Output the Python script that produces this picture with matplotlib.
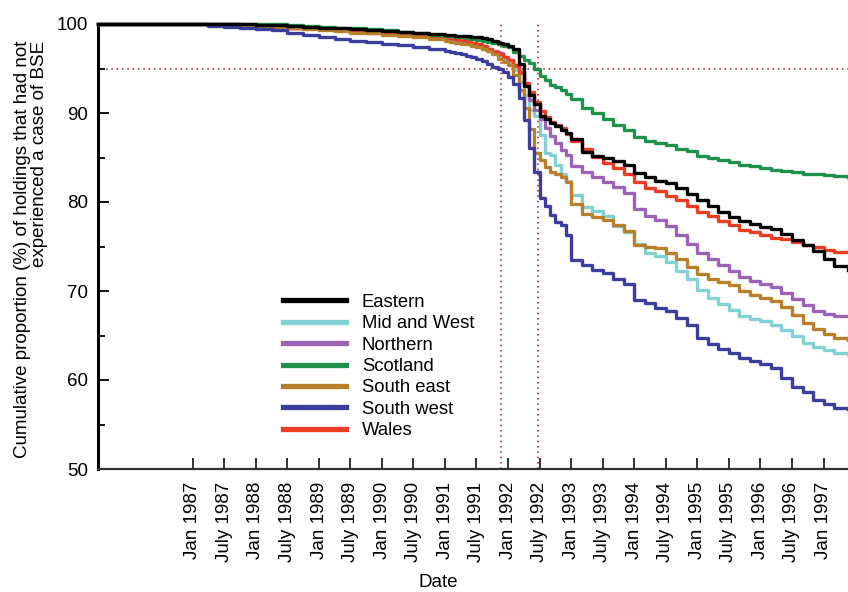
import matplotlib
matplotlib.use('Agg')
import matplotlib.pyplot as plt
import pandas as pd

plt.rcParams['font.family'] = ['Liberation Sans', 'DejaVu Sans']

# ---------------- data ----------------
dates = [
    "1985-07-01", "1985-10-01", "1986-01-01", "1986-04-01", "1986-07-01", "1986-10-01",
    "1987-01-01", "1987-04-01", "1987-07-01", "1987-10-01", "1988-01-01", "1988-04-01",
    "1988-07-01", "1988-10-01", "1989-01-01", "1989-04-01", "1989-07-01", "1989-10-01",
    "1990-01-01", "1990-04-01", "1990-07-01", "1990-10-01",
    "1991-01-01", "1991-02-01", "1991-03-01", "1991-04-01", "1991-05-01", "1991-06-01",
    "1991-07-01", "1991-08-01", "1991-09-01", "1991-10-01", "1991-11-01", "1991-12-01",
    "1992-01-01", "1992-02-01", "1992-03-01", "1992-04-01", "1992-05-01", "1992-06-01",
    "1992-07-01", "1992-08-01", "1992-09-01", "1992-10-01", "1992-11-01", "1992-12-01",
    "1993-01-01", "1993-03-01", "1993-05-01", "1993-07-01", "1993-09-01", "1993-11-01",
    "1994-01-01", "1994-03-01", "1994-05-01", "1994-07-01", "1994-09-01", "1994-11-01",
    "1995-01-01", "1995-03-01", "1995-05-01", "1995-07-01", "1995-09-01", "1995-11-01",
    "1996-01-01", "1996-03-01", "1996-05-01", "1996-07-01", "1996-09-01", "1996-11-01",
    "1997-01-01", "1997-03-01", "1997-05-22",
]

eastern = [
    100, 100, 100, 100, 100, 100, 100, 100, 100, 99.95, 99.9, 99.85, 99.8, 99.7, 99.6, 99.5,
    99.4, 99.3, 99.2, 99.1, 99.0, 98.9,
    98.8, 98.8, 98.7, 98.7, 98.6, 98.5, 98.5, 98.4, 98.3, 98.1, 97.9, 97.8,
    97.5, 97.2, 95.5, 93.0, 92.0, 91.0, 89.7, 89.3, 88.9, 88.5, 88.1, 87.7,
    87.1, 85.6, 85.2, 84.9, 84.6, 84.2, 83.3, 82.8, 82.4, 82.1, 81.6, 80.9,
    80.2, 79.5, 78.9, 78.3, 77.9, 77.5, 77.2, 77.0, 76.4, 75.7, 75.2, 74.5,
    73.6, 72.8, 72.4,
]
mid_and_west = [
    100, 100, 100, 100, 100, 100, 100, 100, 100, 99.85, 99.8, 99.7, 99.6, 99.5, 99.4, 99.3,
    99.15, 99.05, 98.9, 98.8, 98.6, 98.4,
    98.2, 98.1, 98.0, 97.9, 97.8, 97.6, 97.4, 97.2, 97.0, 96.7, 96.4, 96.0,
    95.6, 94.8, 93.5, 92.0, 90.3, 89.7, 87.5, 85.5, 85.3, 84.2, 83.2, 82.4,
    80.8, 79.4, 79.0, 78.4, 77.3, 76.6, 75.3, 74.3, 73.9, 73.3, 72.3, 71.3,
    70.1, 69.2, 68.5, 67.9, 67.2, 66.8, 66.6, 66.2, 65.6, 65.0, 64.2, 63.7,
    63.4, 63.0, 62.9,
]
northern = [
    100, 100, 100, 100, 100, 100, 100, 100, 100, 99.9, 99.8, 99.7, 99.6, 99.5, 99.4, 99.3,
    99.1, 99.0, 98.9, 98.8, 98.6, 98.5,
    98.3, 98.2, 98.1, 98.0, 97.9, 97.8, 97.6, 97.4, 97.2, 97.0, 96.7, 96.3,
    95.9, 95.3, 94.5, 93.2, 91.5, 90.3, 89.3, 88.3, 87.4, 86.6, 85.8, 85.3,
    84.0, 83.4, 82.8, 82.3, 81.7, 81.0, 79.2, 78.4, 78.0, 77.3, 76.3, 75.3,
    74.3, 73.6, 72.9, 72.3, 71.6, 71.1, 70.8, 70.5, 69.8, 69.1, 68.4, 67.8,
    67.4, 67.2, 67.2,
]
scotland = [
    100, 100, 100, 100, 100, 100, 100, 100, 100, 100, 100, 99.95, 99.9, 99.8, 99.7, 99.6,
    99.5, 99.4, 99.3, 99.1, 99.0, 98.8,
    98.6, 98.6, 98.5, 98.5, 98.4, 98.3, 98.2, 98.1, 98.0, 97.9, 97.7, 97.5,
    97.4, 96.9, 96.4, 96.0, 95.6, 94.9, 94.2, 93.7, 93.2, 92.9, 92.6, 92.1,
    91.6, 90.6, 90.0, 89.3, 88.7, 88.1, 87.3, 86.8, 86.6, 86.4, 86.0, 85.7,
    85.2, 84.9, 84.7, 84.5, 84.2, 84.0, 83.8, 83.6, 83.5, 83.4, 83.2, 83.1,
    83.0, 82.9, 82.8,
]
south_east = [
    100, 100, 100, 100, 100, 100, 100, 100, 100, 99.85, 99.75, 99.6, 99.5, 99.4, 99.3, 99.2,
    99.0, 98.95, 98.8, 98.6, 98.5, 98.3,
    98.1, 98.0, 97.9, 97.8, 97.7, 97.5, 97.4, 97.2, 97.0, 96.6, 96.1, 95.7,
    95.4, 94.3, 92.6, 90.6, 88.2, 85.5, 84.7, 83.9, 83.4, 83.1, 82.8, 82.2,
    79.8, 78.7, 78.3, 78.0, 77.4, 76.7, 75.2, 75.0, 74.8, 74.3, 73.6, 72.7,
    71.9, 71.3, 71.0, 70.7, 70.0, 69.5, 69.2, 68.9, 68.2, 67.3, 66.4, 65.7,
    65.2, 64.7, 64.5,
]
south_west = [
    100, 100, 100, 100, 100, 100, 100, 99.8, 99.7, 99.6, 99.4, 99.3, 99.0, 98.8, 98.5, 98.3,
    98.1, 98.0, 97.8, 97.6, 97.4, 97.2,
    97.0, 96.9, 96.7, 96.6, 96.4, 96.3, 96.1, 95.8, 95.5, 95.2, 94.9, 94.6,
    94.0, 93.3, 91.7, 89.2, 86.1, 83.4, 80.5, 79.5, 78.5, 77.8, 77.4, 76.3,
    73.5, 72.9, 72.4, 72.0, 71.4, 70.8, 69.0, 68.6, 68.1, 67.7, 67.0, 66.2,
    64.7, 64.0, 63.5, 63.0, 62.5, 62.1, 61.8, 61.3, 60.2, 59.2, 58.6, 57.8,
    57.3, 56.9, 56.7,
]
wales = [
    100, 100, 100, 100, 100, 100, 100, 100, 100, 99.9, 99.8, 99.7, 99.6, 99.5, 99.4, 99.3,
    99.2, 99.1, 99.0, 98.9, 98.8, 98.7,
    98.5, 98.4, 98.3, 98.2, 98.1, 97.9, 97.7, 97.5, 97.2, 96.9, 96.6, 96.3,
    96.0, 95.4, 94.6, 93.4, 92.4, 91.2, 90.2, 89.6, 89.0, 88.6, 88.3, 87.6,
    86.9, 86.0, 85.1, 84.4, 83.8, 83.2, 82.3, 81.6, 81.2, 80.7, 80.2, 79.6,
    78.9, 78.4, 77.9, 77.4, 76.9, 76.6, 76.3, 76.0, 75.8, 75.5, 75.2, 74.9,
    74.6, 74.4, 74.4,
]

region_names = ["Eastern", "Mid and West", "Northern", "Scotland",
                "South east", "South west", "Wales"]
region_values = [eastern, mid_and_west, northern, scotland,
                 south_east, south_west, wales]
region_colors = ["#000000", "#82d2d5", "#9b62b8", "#1f914a",
                 "#b8802a", "#3c3e9e", "#ee3b24"]

ref_level = 95
ref_dates = ["1991-11-20", "1992-06-22"]

tick_dates = ["1987-01-01", "1987-07-01", "1988-01-01", "1988-07-01", "1989-01-01",
              "1989-07-01", "1990-01-01", "1990-07-01", "1991-01-01", "1991-07-01",
              "1992-01-01", "1992-07-01", "1993-01-01", "1993-07-01", "1994-01-01",
              "1994-07-01", "1995-01-01", "1995-07-01", "1996-01-01", "1996-07-01",
              "1997-01-01"]
tick_labels = ["Jan 1987", "July 1987", "Jan 1988", "July 1988", "Jan 1989",
               "July 1989", "Jan 1990", "July 1990", "Jan 1991", "July 1991",
               "Jan 1992", "July 1992", "Jan 1993", "July 1993", "Jan 1994",
               "July 1994", "Jan 1995", "July 1995", "Jan 1996", "July 1996",
               "Jan 1997"]

# ---------------- plot ----------------
fig = plt.figure(figsize=(8.48, 5.92), dpi=100)
ax = fig.add_axes([98 / 848, 1 - 469 / 592, 750 / 848, 445 / 592])

x = pd.to_datetime(dates)
x_start = pd.Timestamp("1985-07-01")
x_end = pd.Timestamp("1997-05-22")

ref_color = "#a8403a"
ax.axhline(ref_level, xmin=0.01, xmax=1.0, color=ref_color, lw=1.2,
           ls=(0, (1, 2.2)), zorder=1)
ax.vlines(pd.to_datetime(ref_dates), 50, 100, color=ref_color, lw=1.2,
          ls=(0, (1, 2.2)), zorder=1)

draw_order = [1, 2, 6, 3, 4, 5, 0]
handles = {}
for i in draw_order:
    ln, = ax.step(x, region_values[i], where='post', color=region_colors[i],
                  lw=2.4, label=region_names[i], clip_on=False, zorder=3)
    handles[i] = ln

ax.set_xlim(x_start, x_end)
ax.set_ylim(50, 100)
ax.set_yticks([50, 60, 70, 80, 90, 100])
ax.set_yticks([55, 65, 75, 85, 95], minor=True)
ax.set_xticks(pd.to_datetime(tick_dates))
ax.set_xticklabels(tick_labels, rotation=90, va='top', ha='center')

ax.tick_params(axis='x', direction='in', length=8, width=1.3, pad=9,
               labelsize=13.5, color='#222222')
ax.tick_params(axis='y', which='major', direction='in', length=8, width=1.3,
               pad=7, labelsize=13.5)
ax.tick_params(axis='y', which='minor', direction='in', length=5, width=1.3)

for s in ['top', 'right']:
    ax.spines[s].set_visible(False)
ax.spines['left'].set_linewidth(2.2)
ax.spines['left'].set_color('#000000')
ax.spines['bottom'].set_linewidth(1.6)
ax.spines['bottom'].set_color('#333333')

ax.set_xlabel("Date", fontsize=13.5)
ax.xaxis.set_label_coords(0.453, -0.236)
ax.set_ylabel("Cumulative proportion (%) of holdings that had not\n"
              "experienced a case of BSE", fontsize=13.5, linespacing=1.0,
              multialignment='right')
ax.yaxis.set_label_coords(-0.066, 0.494)

leg = ax.legend([handles[i] for i in range(7)], region_names,
                loc='upper left', bbox_to_anchor=(0.247, 0.394),
                frameon=False, fontsize=13.3, handlelength=3.4,
                handletextpad=0.85, labelspacing=0.24, borderpad=0,
                borderaxespad=0)
for l in leg.get_lines():
    l.set_linewidth(3.8)

fig.savefig("out.png", dpi=100)
